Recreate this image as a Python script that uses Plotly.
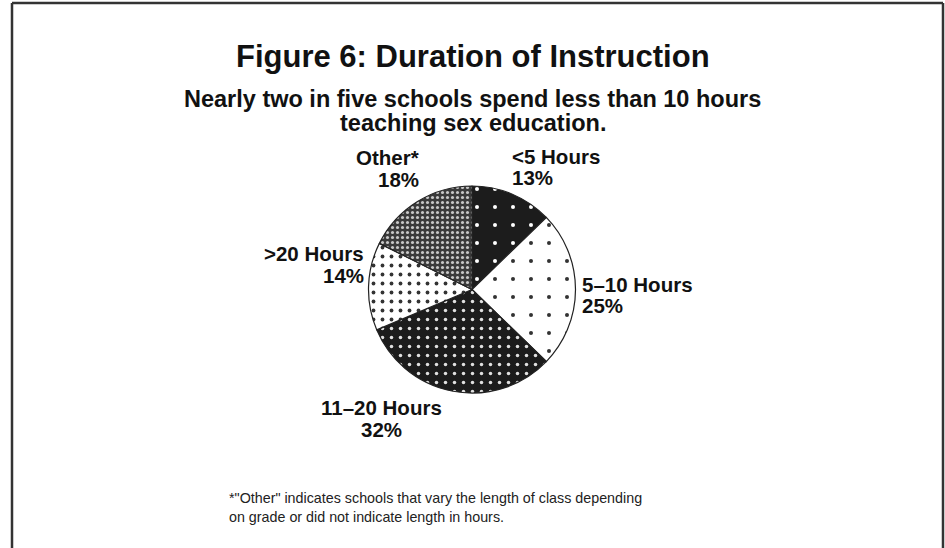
import plotly.graph_objects as go

# ---- data ----
categories = ["<5 Hours", "5–10 Hours", "11–20 Hours", ">20 Hours", "Other*"]
percents = [13, 25, 32, 14, 18]

title = "Figure 6: Duration of Instruction"
subtitle_lines = ["Nearly two in five schools spend less than 10 hours",
                  "teaching sex education."]
footnote_lines = ['*"Other" indicates schools that vary the length of class depending',
                  'on grade or did not indicate length in hours.']

# ---- styles ----
W, H = 945, 548
pattern_bg = ["#1c1c1c", "#ffffff", "#1c1c1c", "#ffffff", "#3a3a3a"]
pattern_fg = ["#ffffff", "#333333", "#e0e0e0", "#333333", "#c8c8c8"]
pattern_size = [18, 18, 9, 9, 5]
pattern_solid = [0.04, 0.04, 0.12, 0.14, 0.3]

fig = go.Figure(go.Pie(
    labels=categories,
    values=percents,
    sort=False,
    direction="clockwise",
    rotation=0,
    textinfo="none",
    hoverinfo="label+value",
    showlegend=False,
    marker=dict(
        colors=pattern_bg,
        line=dict(color="#222222", width=1.2),
        pattern=dict(shape=["."] * 5, bgcolor=pattern_bg, fgcolor=pattern_fg,
                     size=pattern_size, solidity=pattern_solid, fillmode="replace"),
    ),
    domain=dict(x=[368 / W, 576 / W], y=[1 - 393 / H, 1 - 186 / H]),
))

def px_x(x):
    return x / W

def px_y(y):
    return 1 - y / H

ann = []
def add_text(text, x, y, size, bold=True, xanchor="center", color="#111111"):
    ann.append(dict(text=f"<b>{text}</b>" if bold else text,
                    x=px_x(x), y=px_y(y), xref="paper", yref="paper",
                    xanchor=xanchor, yanchor="middle", showarrow=False,
                    font=dict(family="Liberation Sans, Arial", size=size, color=color)))

add_text(title, 473, 57, 31)
add_text(subtitle_lines[0], 473, 99, 23.5)
add_text(subtitle_lines[1], 473, 123, 23.5)

# slice labels (name line, percent line)
label_layout = [
    # x, y_name, y_pct, anchor
    (510, 156, 177, "left"),    # <5
    (580, 284, 305, "left"),    # 5-10
    (381, 407, 429, "center"),  # 11-20
    (366, 254, 275, "right"),   # >20
    (421, 158, 180, "right"),   # Other
]
for cat, pct, (x, yn, yp, anc) in zip(categories, percents, label_layout):
    add_text(cat, x, yn, 20.5, xanchor=anc)
    add_text(f"{pct}%", x, yp, 20.5, xanchor=anc)

add_text(footnote_lines[0], 227, 498, 14.3, bold=False, xanchor="left", color="#222222")
add_text(footnote_lines[1], 227, 517, 14.3, bold=False, xanchor="left", color="#222222")

border = dict(color="#333333", width=2.5)
shapes = [
    dict(type="line", xref="paper", yref="paper", x0=px_x(12), x1=px_x(12), y0=0, y1=px_y(3), line=border),
    dict(type="line", xref="paper", yref="paper", x0=px_x(12), x1=px_x(943), y0=px_y(3), y1=px_y(3), line=border),
    dict(type="line", xref="paper", yref="paper", x0=px_x(943), x1=px_x(943), y0=0, y1=px_y(3), line=border),
]

fig.update_layout(
    width=W, height=H,
    margin=dict(l=0, r=0, t=0, b=0),
    paper_bgcolor="white", plot_bgcolor="white",
    annotations=ann, shapes=shapes,
)
fig.write_html("out.html", config={"displayModeBar": False},
               post_script="document.body.style.margin='0';document.body.style.overflow='hidden';")
